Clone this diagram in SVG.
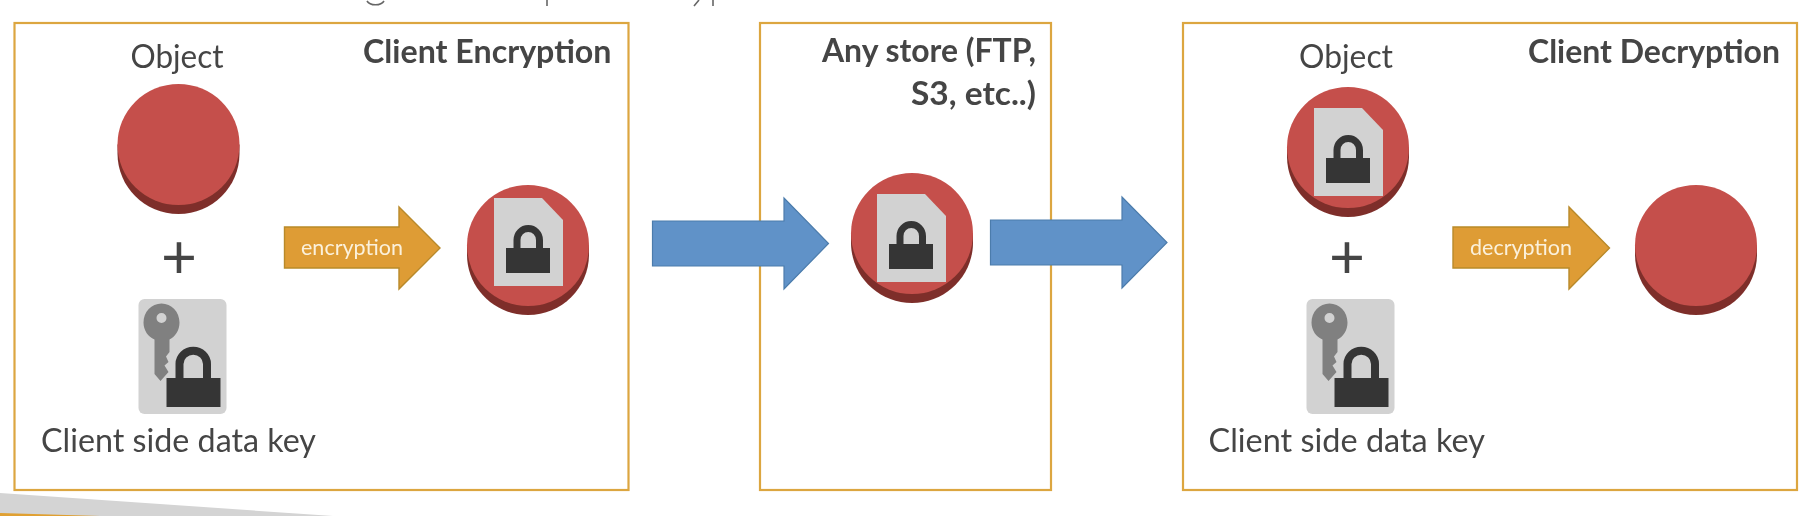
<svg xmlns="http://www.w3.org/2000/svg" xmlns:xlink="http://www.w3.org/1999/xlink" width="1820" height="516" viewBox="0 0 1820 516">
<style>
.frame{fill:none;stroke:#DCA640;stroke-width:2.2}
.t{font-family:"Lato","Open Sans","Liberation Sans",sans-serif;fill:#454545}
.reg{font-size:33px}
.b{font-size:33px;font-weight:700}
.lbl{font-size:22px;fill:#FBF1DC}
.plus{font-size:62px}
.blue{fill:#6192C8;stroke:#4B7CAC;stroke-width:1.2}
.orange{fill:#DE9C36;stroke:#B98A2A;stroke-width:1.4}
.top{fill:#C5504B}.side{fill:#7E2F2A}
.tile{fill:#D2D2D2}.dark{fill:#363636}
.shackle{fill:none;stroke:#363636;stroke-width:7}
.mark{fill:none;stroke:#666;stroke-width:1.6}
</style>
<defs>
<filter id="soft" x="0" y="0" width="100%" height="100%" filterUnits="userSpaceOnUse"><feGaussianBlur stdDeviation="0.55"/></filter>
<g id="disc">
<path class="side" d="M0 60.5V69.5C0 103 27.3 130 61 130S122 103 122 69.5V60.5Z"/>
<ellipse class="top" cx="61" cy="60.5" rx="61" ry="60.5"/>
</g>
<g id="lockdoc">
<path class="tile" d="M0 0H48L69 22V88H0Z"/>
<rect class="dark" x="12" y="50" width="44" height="25"/>
<path class="shackle" d="M23 50V42A11.25 11.5 0 0 1 45.5 42V50"/>
</g>
<g id="keytile">
<rect class="tile" x="0" y="0" width="88" height="115" rx="6"/>
<path fill="#808080" fill-rule="evenodd" d="M23 0.5C13 0.5 5 9 5 19.5C5 27.5 9.5 33.5 16 36.5V71L22 78L30 69L26 62.5L30 59L27.5 53.5L31 49V36.5C37 33.5 41 27 41 19.5C41 9 33 0.5 23 0.5ZM23 10A5 5 0 1 1 23 20A5 5 0 1 1 23 10Z" transform="translate(0 4)"/>
<rect class="dark" x="28" y="79" width="54" height="29"/>
<path class="shackle" d="M41 79V65A13.5 13 0 0 1 68.5 65V79" style="stroke-width:8"/>
</g>
</defs>

<g filter="url(#soft)">
<g id="header-fragments">
<path class="mark" d="M367 1C370 6 381 6 384 1M547 0V6M699 0L694 6M713 0V6"/>
</g>
<g id="slide-corner">
<path fill="#D4D4D4" d="M0 493L333 516H0Z"/>
<path fill="#E0A030" d="M0 513L100 516H0Z"/>
</g>

<g id="client-encryption">
<rect class="frame" x="14.5" y="23" width="614" height="467"/>
<text class="t b" x="363" y="63" textLength="248.5" lengthAdjust="spacingAndGlyphs">Client Encryption</text>
</g>
<g id="any-store">
<rect class="frame" x="760" y="23" width="291" height="467"/>
<text class="t b" x="822" y="62" textLength="214" lengthAdjust="spacingAndGlyphs">Any store (FTP,</text>
<text class="t b" x="911" y="105" textLength="125" lengthAdjust="spacingAndGlyphs">S3, etc..)</text>
</g>
<g id="client-decryption">
<rect class="frame" x="1183" y="23" width="614" height="467"/>
<text class="t b" x="1528" y="63" textLength="252" lengthAdjust="spacingAndGlyphs">Client Decryption</text>
</g>

<g id="connectors">
<path class="blue" d="M652.5 221H784V198L828.5 243.5L784 289V266H652.5Z"/>
<path class="blue" d="M990.5 220H1122V197L1167 242.5L1122 288V265H990.5Z"/>
<path class="orange" d="M284.5 227H399V207L440 248L399 289V268H284.5Z"/>
<path class="orange" d="M1453 227H1569V207L1609.5 248L1569 289V268H1453Z"/>
</g>

<g id="object-left">
<text class="t reg" x="130.5" y="68" textLength="93" lengthAdjust="spacingAndGlyphs">Object</text>
<use xlink:href="#disc" href="#disc" x="117.5" y="84"/>
</g>
<g id="plus-left"><text class="t plus" x="179" y="278" text-anchor="middle">+</text></g>
<g id="key-left">
<use xlink:href="#keytile" href="#keytile" x="138.5" y="299"/>
<text class="t reg" x="41" y="452" textLength="275" lengthAdjust="spacingAndGlyphs">Client side data key</text>
</g>
<g id="encryption-label"><text class="t lbl" x="301" y="255" textLength="102" lengthAdjust="spacingAndGlyphs">encryption</text></g>
<g id="encrypted-left">
<use xlink:href="#disc" href="#disc" x="467" y="185"/>
<use xlink:href="#lockdoc" href="#lockdoc" x="494" y="198"/>
</g>
<g id="encrypted-store">
<use xlink:href="#disc" href="#disc" x="851" y="173"/>
<use xlink:href="#lockdoc" href="#lockdoc" x="877" y="194"/>
</g>
<g id="encrypted-right">
<text class="t reg" x="1299" y="68" textLength="94" lengthAdjust="spacingAndGlyphs">Object</text>
<use xlink:href="#disc" href="#disc" x="1287" y="87"/>
<use xlink:href="#lockdoc" href="#lockdoc" x="1314" y="108"/>
</g>
<g id="plus-right"><text class="t plus" x="1347" y="278" text-anchor="middle">+</text></g>
<g id="key-right">
<use xlink:href="#keytile" href="#keytile" x="1306.5" y="299"/>
<text class="t reg" x="1208.5" y="452" textLength="276.5" lengthAdjust="spacingAndGlyphs">Client side data key</text>
</g>
<g id="decryption-label"><text class="t lbl" x="1470" y="255" textLength="102" lengthAdjust="spacingAndGlyphs">decryption</text></g>
<g id="object-right"><use xlink:href="#disc" href="#disc" x="1635" y="185"/></g>
</g>
</svg>
